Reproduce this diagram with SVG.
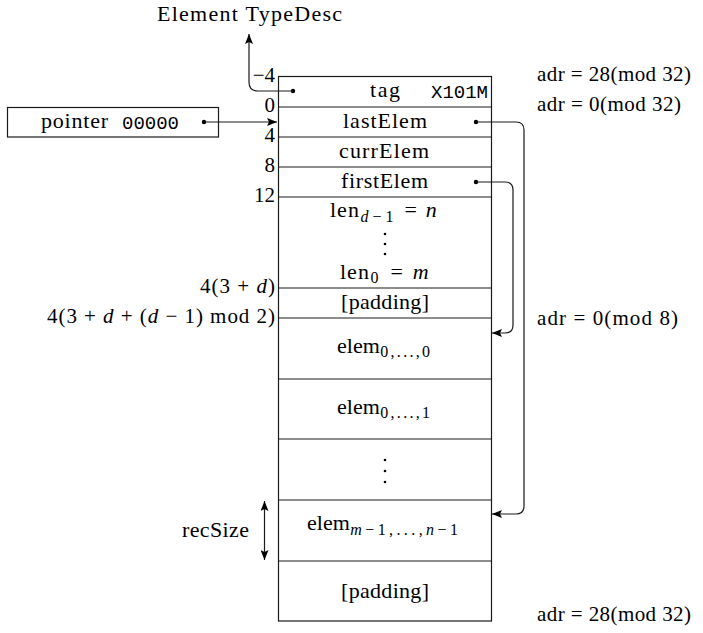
<svg xmlns="http://www.w3.org/2000/svg" width="703" height="633" viewBox="0 0 703 633">
<style>
.t{font-family:"Liberation Serif","DejaVu Serif",serif;font-size:22px;fill:#000}
.o{font-size:21px}
.s{font-size:16px}
.i{font-style:italic}
.w{letter-spacing:2.3px}
.ww{letter-spacing:3.4px}
.m{font-family:"Liberation Mono","DejaVu Sans Mono",monospace;font-size:19px;fill:#000}
.ln{stroke:#1a1a1a;stroke-width:1.2;fill:none}
.dot{fill:#000}
</style>
<defs>
<marker id="ah" viewBox="0 0 10 8" refX="10" refY="4" markerWidth="10" markerHeight="8" markerUnits="userSpaceOnUse" orient="auto-start-reverse">
<path d="M0,0 L10,4 L0,8 L2,4 Z" fill="#000"/>
</marker>
</defs>
<rect width="703" height="633" fill="#fff"/>

<g id="record">
<rect class="ln" x="278.5" y="76.5" width="213" height="544.5"/>
<path class="ln" d="M278.5,107 H491.5 M278.5,137 H491.5 M278.5,167 H491.5 M278.5,197 H491.5 M278.5,288 H491.5 M278.5,318 H491.5 M278.5,379 H491.5 M278.5,439 H491.5 M278.5,500 H491.5 M278.5,561 H491.5"/>
</g>

<g id="row-tag">
<text class="t" x="370" y="97" textLength="30">tag</text>
<text class="m" x="488" y="98" text-anchor="end">X101M</text>
<circle class="dot" cx="293" cy="91" r="2.2"/>
</g>
<g id="row-lastElem">
<text class="t" x="343" y="128" textLength="84">lastElem</text>
<circle class="dot" cx="476" cy="122" r="2.2"/>
</g>
<g id="row-currElem">
<text class="t" x="339" y="158" textLength="90">currElem</text>
</g>
<g id="row-firstElem">
<text class="t" x="341" y="188" textLength="87">firstElem</text>
<circle class="dot" cx="476" cy="182" r="2.2"/>
</g>
<g id="row-len">
<text class="t" x="330" y="217"><tspan style="letter-spacing:1px">len</tspan><tspan class="s i" dy="5" dx="0.5">d</tspan><tspan class="s" dx="4">−</tspan><tspan class="s" dx="4">1</tspan><tspan dy="-5" dx="11">=</tspan><tspan class="i" dx="9">n</tspan></text>
<circle class="dot" cx="385" cy="234" r="1.3"/>
<circle class="dot" cx="385" cy="244" r="1.3"/>
<circle class="dot" cx="385" cy="254" r="1.3"/>
<text class="t" x="340" y="279"><tspan style="letter-spacing:1px">len</tspan><tspan class="s" dy="4" dx="0.5">0</tspan><tspan dy="-4" dx="12">=</tspan><tspan class="i" dx="10">m</tspan></text>
</g>
<g id="row-padding1">
<text class="t" x="341" y="309" textLength="88">[padding]</text>
</g>
<g id="row-elem00">
<text class="t" x="337" y="353">elem<tspan class="s w" dy="4" dx="0.5">0,...,0</tspan></text>
</g>
<g id="row-elem01">
<text class="t" x="337" y="414">elem<tspan class="s w" dy="4" dx="0.5">0,...,1</tspan></text>
</g>
<g id="row-dots">
<circle class="dot" cx="385" cy="460" r="1.3"/>
<circle class="dot" cx="385" cy="471" r="1.3"/>
<circle class="dot" cx="385" cy="482" r="1.3"/>
</g>
<g id="row-elemLast">
<text class="t" x="307" y="530">elem<tspan class="s i ww" dy="5" dx="0.5">m</tspan><tspan class="s ww">−1,...,</tspan><tspan class="s i ww">n</tspan><tspan class="s ww">−1</tspan></text>
</g>
<g id="row-padding2">
<text class="t" x="341" y="598" textLength="88">[padding]</text>
</g>

<g id="offsets">
<text class="t o" x="275" y="82" text-anchor="end">−4</text>
<text class="t o" x="275" y="112" text-anchor="end">0</text>
<text class="t o" x="275" y="142" text-anchor="end">4</text>
<text class="t o" x="275" y="172" text-anchor="end">8</text>
<text class="t o" x="275" y="202" text-anchor="end">12</text>
<text class="t o" x="200" y="293" textLength="75">4(3 + <tspan class="i">d</tspan>)</text>
<text class="t o" x="47" y="323" textLength="228">4(3 + <tspan class="i">d</tspan> + (<tspan class="i">d</tspan> − 1) mod 2)</text>
</g>

<g id="addresses">
<text class="t o" x="537" y="81" textLength="154">adr = 28(mod 32)</text>
<text class="t o" x="537" y="111" textLength="144">adr = 0(mod 32)</text>
<text class="t o" x="537" y="325" textLength="141">adr = 0(mod 8)</text>
<text class="t o" x="537" y="621" textLength="154">adr = 28(mod 32)</text>
</g>

<g id="pointer">
<rect class="ln" x="7.5" y="107.5" width="211" height="29.5"/>
<text class="t" x="41" y="128" textLength="67">pointer</text>
<text class="m" x="122" y="129">00000</text>
<circle class="dot" cx="204" cy="122" r="2.2"/>
</g>

<g id="typedesc">
<text class="t" x="157" y="21" textLength="185">Element TypeDesc</text>
</g>

<g id="recsize">
<text class="t" x="182" y="537" textLength="67">recSize</text>
</g>

<g id="connectors">
<path class="ln" d="M204,122 H277" marker-end="url(#ah)"/>
<path class="ln" d="M293,91 H258 Q249,91 249,82 V34" marker-end="url(#ah)"/>
<path class="ln" d="M476,122 H516 Q524,122 524,130 V506 Q524,514 516,514 H492" marker-end="url(#ah)"/>
<path class="ln" d="M476,182 H505 Q513,182 513,190 V325 Q513,333 505,333 H492" marker-end="url(#ah)"/>
<path class="ln" d="M264.5,501 V560" marker-start="url(#ah)" marker-end="url(#ah)"/>
</g>
</svg>
